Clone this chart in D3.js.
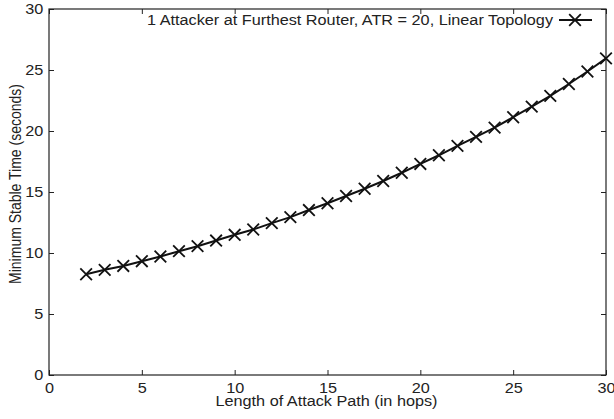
<!DOCTYPE html>
<html>
<head>
<meta charset="utf-8">
<script src="https://cdn.jsdelivr.net/npm/d3@7"></script>
<style>
  body { margin: 0; background: #fff; }
  svg text { font-family: "Liberation Sans", Arial, sans-serif; fill: #222; }
</style>
</head>
<body>
<svg width="614" height="419"></svg>
<script>
// Path length (hops) and minimum stable time (seconds)
const hops = [2, 3, 4, 5, 6, 7, 8, 9, 10, 11, 12, 13, 14, 15, 16,
              17, 18, 19, 20, 21, 22, 23, 24, 25, 26, 27, 28, 29, 30];
const stableTime = [8.26, 8.62, 8.94, 9.33, 9.71, 10.15, 10.56, 11.02, 11.49, 11.93,
                    12.45, 12.94, 13.52, 14.08, 14.67, 15.27, 15.9, 16.58, 17.3, 18.01,
                    18.78, 19.52, 20.28, 21.13, 22.0, 22.88, 23.85, 24.88, 25.95];
const xTicks = [0, 5, 10, 15, 20, 25, 30];
const yTicks = [0, 5, 10, 15, 20, 25, 30];
const legendLabel = "1 Attacker at Furthest Router, ATR = 20, Linear Topology";

const svg = d3.select("svg");
const margin = { top: 9, right: 8, bottom: 44, left: 49 };
const width = 614 - margin.left - margin.right;
const height = 419 - margin.top - margin.bottom;
const stretch = 1.16; // the original figure is a bit wider than tall in its text

const g = svg.append("g")
    .attr("transform", `translate(${margin.left},${margin.top})`);

const x = d3.scaleLinear().domain([0, 30]).range([0, width]);
const y = d3.scaleLinear().domain([0, 30]).range([height, 0]);

// axes with inward ticks
const tick = 5;
g.append("g")
    .attr("transform", `translate(0,${height})`)
    .call(d3.axisBottom(x).tickValues(xTicks).tickSizeInner(-tick).tickSizeOuter(0).tickPadding(8))
    .call(a => a.selectAll("text").attr("font-size", 14).attr("transform", `scale(${stretch},1)`));
g.append("g")
    .call(d3.axisTop(x).tickValues(xTicks).tickSizeInner(-tick).tickSizeOuter(0).tickFormat(""));
g.append("g")
    .call(d3.axisLeft(y).tickValues(yTicks).tickSizeInner(-tick).tickSizeOuter(0).tickPadding(5))
    .call(a => a.selectAll("text").attr("font-size", 14).attr("transform", `scale(${stretch},1)`));
g.append("g")
    .attr("transform", `translate(${width},0)`)
    .call(d3.axisRight(y).tickValues(yTicks).tickSizeInner(-tick).tickSizeOuter(0).tickFormat(""));
g.selectAll(".domain").remove();
g.selectAll(".tick line").attr("stroke", "#222");

g.append("rect")
    .attr("width", width).attr("height", height)
    .attr("fill", "none").attr("stroke", "#222").attr("stroke-width", 1.2);

const data = hops.map((h, i) => ({ h, t: stableTime[i] }));

const line = d3.line().x(d => x(d.h)).y(d => y(d.t));
g.append("path")
    .datum(data)
    .attr("fill", "none")
    .attr("stroke", "#111")
    .attr("stroke-width", 2)
    .attr("d", line);

const cross = d3.symbol().type(d3.symbolX).size(90);
g.selectAll(".pt")
    .data(data)
    .join("path")
    .attr("class", "pt")
    .attr("transform", d => `translate(${x(d.h)},${y(d.t)})`)
    .attr("d", cross)
    .attr("fill", "none")
    .attr("stroke", "#111")
    .attr("stroke-width", 1.8);

// legend
const lx = 510, ly = 11;
g.append("text")
    .attr("transform", `translate(${lx - 6},${ly}) scale(${stretch},1)`)
    .attr("dy", "0.35em")
    .attr("text-anchor", "end")
    .attr("font-size", 14)
    .text(legendLabel);
g.append("line")
    .attr("x1", lx).attr("x2", lx + 33)
    .attr("y1", ly).attr("y2", ly)
    .attr("stroke", "#111").attr("stroke-width", 2);
g.append("path")
    .attr("transform", `translate(${lx + 16},${ly})`)
    .attr("d", cross)
    .attr("fill", "none").attr("stroke", "#111").attr("stroke-width", 1.8);

// axis titles
svg.append("text")
    .attr("transform", `translate(${margin.left + width / 2 - 1},406) scale(${stretch},1)`)
    .attr("text-anchor", "middle")
    .attr("font-size", 14)
    .text("Length of Attack Path (in hops)");
svg.append("text")
    .attr("transform", `translate(21,184) scale(${stretch},1) rotate(-90)`)
    .attr("text-anchor", "middle")
    .attr("font-size", 14)
    .text("Minimum Stable Time (seconds)");
</script>
</body>
</html>
